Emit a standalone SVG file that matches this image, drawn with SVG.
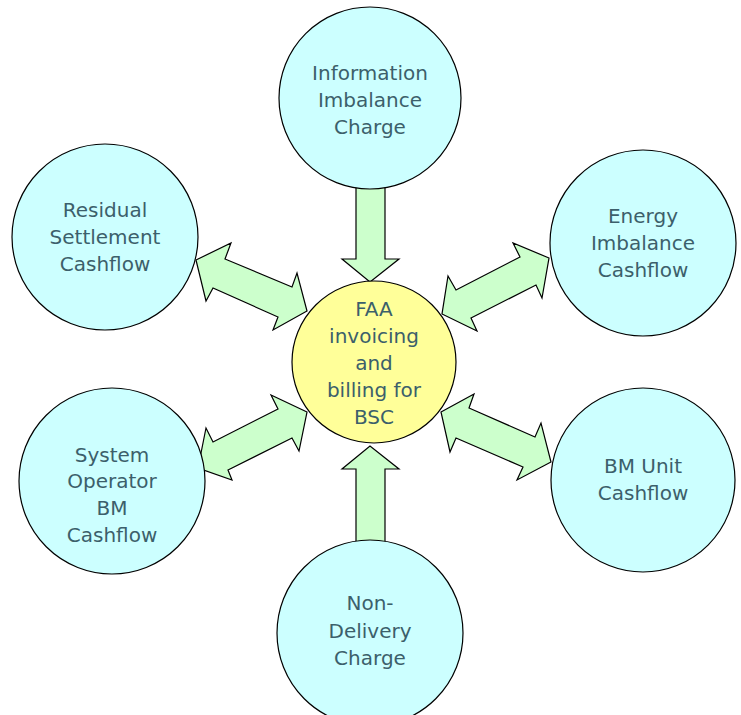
<svg xmlns="http://www.w3.org/2000/svg" width="741" height="715" viewBox="0 0 741 715">
<style>
.arrow{fill:#ccffcc;stroke:#000;stroke-width:1.2;stroke-linejoin:miter}
.node{fill:#ccffff;stroke:#000;stroke-width:1.2}
.hub{fill:#ffff99;stroke:#000;stroke-width:1.2}
text{font-family:"DejaVu Sans",Verdana,sans-serif;font-size:20px;fill:#3c5f6b;text-anchor:middle}
</style>
<rect width="741" height="715" fill="#fff"/>
<g id="connectors">
<polygon class="arrow" points="356,170 385,170 385,259 399,259 370,282 342,259 356,259"/>
<polygon class="arrow" points="356,560 385,560 385,469 399,469 370,446 342,469 356,469"/>
<polygon class="arrow" points="196,260 231,243 225,259 292,287 297,273 307,311 273,330 278,317 213,288 206,301"/>
<polygon class="arrow" points="549,258 513,243 520,257 456,290 448,276 442,314 477,331 471,318 536,285 542,298"/>
<polygon class="arrow" points="307,412 271,395 278,409 213,442 206,428 198,468 232,480 228,470 292,438 299,451"/>
<polygon class="arrow" points="441,412 474,394 469,408 535,437 541,423 551,462 517,480 523,467 456,438 450,452"/>
</g>
<g id="n-info">
<circle class="node" cx="370" cy="98" r="91"/>
<text x="370" y="80">Information</text>
<text x="370" y="107">Imbalance</text>
<text x="370" y="134">Charge</text>
</g>
<g id="n-residual">
<circle class="node" cx="105" cy="237" r="93"/>
<text x="105" y="217">Residual</text>
<text x="105" y="244">Settlement</text>
<text x="105" y="271">Cashflow</text>
</g>
<g id="n-energy">
<circle class="node" cx="643" cy="243" r="93"/>
<text x="643" y="223">Energy</text>
<text x="643" y="250">Imbalance</text>
<text x="643" y="277">Cashflow</text>
</g>
<g id="n-sysop">
<circle class="node" cx="112" cy="481" r="93"/>
<text x="112" y="462">System</text>
<text x="112" y="488">Operator</text>
<text x="112" y="515">BM</text>
<text x="112" y="542">Cashflow</text>
</g>
<g id="n-bmunit">
<circle class="node" cx="643" cy="480" r="92"/>
<text x="643" y="473">BM Unit</text>
<text x="643" y="500">Cashflow</text>
</g>
<g id="n-nondelivery">
<circle class="node" cx="370" cy="633" r="93"/>
<text x="370" y="610">Non-</text>
<text x="370" y="638">Delivery</text>
<text x="370" y="665">Charge</text>
</g>
<g id="n-faa">
<ellipse class="hub" cx="374" cy="362" rx="82" ry="81"/>
<text x="374" y="316">FAA</text>
<text x="374" y="343">invoicing</text>
<text x="374" y="370">and</text>
<text x="374" y="397">billing for</text>
<text x="374" y="424">BSC</text>
</g>
</svg>
